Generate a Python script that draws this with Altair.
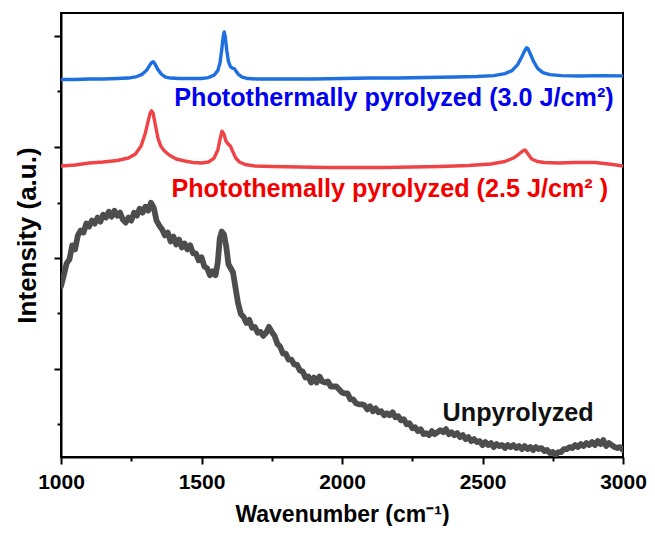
import altair as alt
import pandas as pd

# Unpyrolyzed (gray)
gray_x = [1000,1010,1020,1030,1040,1050,1060,1070,1080,1090,1100,1110,1120,1130,1140,1150,1160,1170,1180,1190,
          1200,1210,1220,1230,1240,1250,1260,1270,1280,1290,1300,1310,1320,1330,1340,1350,1360,1370,1380,1390,
          1400,1410,1420,1430,1440,1450,1460,1470,1480,1490,1500,1510,1520,1530,1540,1550,1558,1565,1572,1580,
          1588,1596,1604,1612,1620,1630,1640,1650,1660,1670,1680,1690,1700,1710,1720,1730,1740,1750,1760,1770,
          1780,1790,1800,1810,1820,1830,1840,1850,1860,1870,1880,1890,1900,1910,1920,1930,1940,1950,1960,1970,
          1980,1990,2000,2010,2020,2030,2040,2050,2060,2070,2080,2090,2100,2110,2120,2130,2140,2150,2160,2170,
          2180,2190,2200,2210,2220,2230,2240,2250,2260,2270,2280,2290,2300,2310,2320,2330,2340,2350,2360,2370,
          2380,2390,2400,2410,2420,2430,2440,2450,2460,2470,2480,2490,2500,2510,2520,2530,2540,2550,2560,2570,
          2580,2590,2600,2610,2620,2630,2640,2650,2660,2670,2680,2690,2700,2710,2720,2730,2740,2750,2760,2770,
          2780,2790,2800,2810,2820,2830,2840,2850,2860,2870,2880,2890,2900,2910,2920,2930,2940,2950,2960,2970,
          2980,2990,3000]
gray_y = [172,183,195,199,213,209,223,228,226,235,232,238,235,241,237,244,241,247,242,248,
          243,246,239,236,241,238,246,243,250,246,252,248,256,251,238,233,229,223,226,217,
          222,214,219,211,215,209,213,205,205,198,201,192,190,183,187,183,196,220,227,224,
          212,194,190,186,172,155,144,141,135,138,130,131,125,126,122,125,131,126,122,114,
          111,104,104,98,98,93,93,87,86,80,81,75,80,75,81,76,75,76,71,71,
          71,68,65,64,64,58,58,54,53,53,52,48,51,46,49,45,46,42,44,42,
          45,40,41,37,38,33,34,29,30,26,28,23,24,22,26,23,25,27,25,28,
          23,25,22,24,20,22,18,20,16,18,15,16,12,15,12,14,10,13,11,12,
          9,12,10,12,9,11,8,11,8,10,7,10,8,9,6,7,4,5,2,5,
          5,8,8,10,9,12,10,13,11,14,12,15,12,16,13,17,11,14,12,10,
          9,10,7]

# Photothemally pyrolyzed 2.5 J/cm2 (red)
red_x = [1000,1050,1100,1150,1200,1240,1265,1285,1300,1310,1317,1322,1328,1336,1345,1355,1368,1385,1410,1440,
         1470,1500,1525,1545,1558,1566,1573,1580,1587,1595,1603,1612,1622,1635,1655,1690,1750,1850,1950,2050,
         2150,2250,2350,2450,2530,2580,2610,2630,2645,2652,2662,2675,2695,2720,2770,2830,2900,2950,3000]
red_y = [293,294,296,297,298.5,301,305,313,326,338,346,348.5,346,334,321,313,308,304,300,298,
         296.5,296,297,301,309,320,328,325,318,315,313,307,301,297,294.5,293,292.5,292,291.5,291.5,
         291.5,292,292.5,293.5,295,297.5,301,305,308.5,309,305,300,297.5,296.5,296,296.5,296.5,295,293]

# Photothermally pyrolyzed 3.0 J/cm2 (blue)
blue_x = [1000,1050,1100,1150,1200,1240,1270,1290,1305,1315,1322,1328,1335,1345,1357,1372,1390,1420,1460,1500,
          1525,1545,1558,1566,1572,1577,1581,1585,1590,1596,1603,1610,1617,1624,1632,1645,1665,1700,1800,1900,
          2000,2100,2200,2300,2400,2480,2540,2580,2605,2625,2640,2650,2657,2662,2670,2682,2697,2715,2740,2780,
          2850,2920,3000]
blue_y = [380,380,380.5,380.5,381,381.5,383,385.5,389.5,394,397,398,395.5,390,385.5,382.5,381.5,381,381,381,
          382,384.5,389,397,410,423,428,422,409,398,393,391.5,391,388,385,382.5,381,380.5,380.5,380.5,
          381,381.5,381.5,382,382.5,383,384,386,389,395,403,409,412,411,406,398,391,387,385,384,
          383.5,384,383.7]

x_ticks = [1000,1250,1500,1750,2000,2250,2500,2750,3000]
y_major = [89,200,312,424]
y_minor = [33,145,256,368]

labels = ["Photothermally pyrolyzed (3.0 J/cm²)", "Photothemally pyrolyzed (2.5 J/cm² )", "Unpyrolyzed"]
label_x = [1403, 1393, 2358]
label_y = [353, 262, 36]
label_col = ["#0000EE", "#F20000", "#111111"]

FONT = "Liberation Sans"

xscale = alt.Scale(domain=[1000, 3000], nice=False, zero=False)
yscale = alt.Scale(domain=[0, 447], nice=False, zero=False)

xaxis = alt.Axis(
    values=x_ticks, format="d",
    labelExpr="datum.value % 500 === 0 ? datum.label : ''",
    tickSize={"condition": {"test": "datum.value % 500 === 0", "value": 7}, "value": 4},
    title="Wavenumber (cm⁻¹)", titleFontSize=23, titleFont=FONT, titleFontWeight="bold",
    titlePadding=11, labelFont=FONT, labelFontSize=21, labelFontWeight="bold",
    labelPadding=7, labelColor="black", titleColor="black",
    grid=False, domainColor="black", domainWidth=2, tickColor="black", tickWidth=2,
    labelFlush=False, labelOverlap=False,
)
yvals = sorted(y_major + y_minor)
yaxis = alt.Axis(
    values=yvals, labels=False,
    tickSize={"condition": {"test": "indexof([89,200,312,424], datum.value) >= 0", "value": 7}, "value": 4},
    title="Intensity (a.u.)", titleFontSize=26, titleFont=FONT, titleFontWeight="bold",
    titlePadding=13, titleColor="black",
    grid=False, domainColor="black", domainWidth=2, tickColor="black", tickWidth=2,
)

def line(xs, ys, color, width):
    df = pd.DataFrame({"x": xs, "y": ys})
    return alt.Chart(df).mark_line(color=color, strokeWidth=width, strokeJoin="round", strokeCap="round", clip=True).encode(
        x=alt.X("x:Q", scale=xscale, axis=xaxis),
        y=alt.Y("y:Q", scale=yscale, axis=yaxis),
    )

gray = line(gray_x, gray_y, "#4D4D4D", 5.8)
red = line(red_x, red_y, "#EF4447", 3.4)
blue = line(blue_x, blue_y, "#1E6FDF", 3.4)

ldf = pd.DataFrame({"x": label_x, "y": label_y, "t": labels, "c": label_col})
text = alt.Chart(ldf).mark_text(align="left", baseline="alphabetic", font=FONT, fontSize=25.2, fontWeight="bold").encode(
    x=alt.X("x:Q", scale=xscale),
    y=alt.Y("y:Q", scale=yscale),
    text="t:N",
    color=alt.Color("c:N", scale=None),
)

chart = alt.layer(gray, red, blue, text).properties(
    width=562, height=444,
    padding={"left": 6, "top": 5, "right": 0, "bottom": 0},
).configure_view(stroke="black", strokeWidth=2)

chart.save("out.html", embed_options={"renderer": "svg", "actions": False})
